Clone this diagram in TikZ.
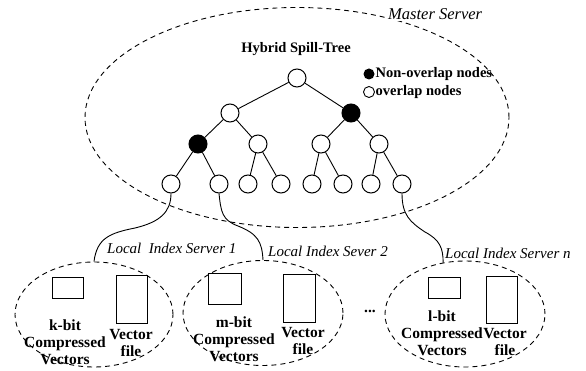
\documentclass[tikz,border=0pt]{standalone}
\usepackage{fontspec}
\setmainfont{Liberation Serif}
\usetikzlibrary{shapes.geometric}
\begin{document}
\begin{tikzpicture}[x=1pt,y=-1pt,
  tn/.style={circle,draw,line width=1pt,minimum size=18pt,inner sep=0pt},
  dn/.style={tn,fill=black},
  edge/.style={line width=0.9pt},
  link/.style={line width=0.9pt},
  srv/.style={ellipse,draw,line width=0.9pt,dash pattern=on 5pt off 4pt,inner sep=0pt},
  store/.style={draw,line width=1pt,inner sep=0pt},
  lbl/.style={font=\fontsize{14.5}{17}\selectfont\bfseries,align=center,inner sep=0pt},
  txt/.style={font=\fontsize{15.5}{17}\selectfont\bfseries,align=center,inner sep=0pt},
  itl/.style={font=\fontsize{15}{17}\selectfont\itshape,inner sep=1pt}
]
\useasboundingbox (0,0) rectangle (586,371);

% master server and its tree
\node[srv,minimum width=424pt,minimum height=220pt] (master) at (297,117.5) {};
\node[itl,anchor=west,fill=white,font=\fontsize{16.5}{18}\selectfont\itshape] (mlabel) at (387,14) {Master Server};
\node[lbl] (title) at (296,49) {Hybrid Spill-Tree};

\node[tn] (r) at (297,78) {};
\node[tn] (a) at (230,113) {};
\node[dn] (b) at (351,113) {};
\node[dn] (a1) at (198,144) {};
\node[tn] (a2) at (258,144) {};
\node[tn] (b1) at (321,144) {};
\node[tn] (b2) at (379,144) {};
\foreach \n/\x in {l1/171,l2/219,l3/248,l4/281,l5/312,l6/343,l7/371,l8/402}
  \node[tn] (\n) at (\x,184) {};

\draw[edge] (r) -- (a);  \draw[edge] (r) -- (b);
\draw[edge] (a) -- (a1); \draw[edge] (a) -- (a2);
\draw[edge] (b) -- (b1); \draw[edge] (b) -- (b2);
\draw[edge] (a1) -- (l1); \draw[edge] (a1) -- (l2);
\draw[edge] (a2) -- (l3); \draw[edge] (a2) -- (l4);
\draw[edge] (b1) -- (l5); \draw[edge] (b1) -- (l6);
\draw[edge] (b2) -- (l7); \draw[edge] (b2) -- (l8);

% legend
\node[circle,fill=black,minimum size=11pt,inner sep=0pt] (kb) at (369,74) {};
\node[circle,draw,line width=0.9pt,minimum size=11pt,inner sep=0pt] (kw) at (369,92) {};
\node[lbl,anchor=west] (tb) at (375.5,74) {Non-overlap nodes};
\node[lbl,anchor=west] (tw) at (375.5,92) {overlap nodes};

% local index servers
\node[srv,minimum width=158pt,minimum height=105pt] (s1) at (94,314.5) {};
\node[srv,minimum width=160pt,minimum height=105pt] (s2) at (263,313) {};
\node[srv,minimum width=160pt,minimum height=106pt] (s3) at (465,314) {};

\node[itl,anchor=west] (n1) at (106,248) {Local\ \ Index Server 1};
\node[itl,anchor=west] (n2) at (267,251) {Local Index Sever 2};
\node[itl,anchor=west] (n3) at (444,253) {Local Index Server n};

\node[store,minimum width=31pt,minimum height=20pt] (c1) at (67.5,288) {};
\node[store,minimum width=31pt,minimum height=47pt] (v1) at (131.5,299.5) {};
\node[store,minimum width=33pt,minimum height=30pt] (c2) at (224.5,289) {};
\node[store,minimum width=32pt,minimum height=47pt] (v2) at (299,298.5) {};
\node[store,minimum width=32pt,minimum height=20pt] (c3) at (444,288) {};
\node[store,minimum width=31pt,minimum height=46pt] (v3) at (501.5,300) {};

\node[txt,anchor=north] (t1) at (65,319.5) {k-bit\\Compressed\\Vectors};
\node[txt,anchor=north] (f1) at (131,329.5) {Vector\\file};
\node[txt,anchor=north] (t2) at (234,316.5) {m-bit\\Compressed\\Vectors};
\node[txt,anchor=north] (f2) at (303,327.5) {Vector\\file};
\node[txt,anchor=north] (t3) at (442,310.5) {l-bit\\Compressed\\Vectors};
\node[txt,anchor=north] (f3) at (505,328.5) {Vector\\file};

\node[txt] (dots) at (370,311) {...};

% links from leaves to the local servers
\draw[link] (l1.south) .. controls (171,212) and (160,222) .. (135,228)
  .. controls (110,233) and (97,238) .. (s1.north);
\draw[link] (l2.south) .. controls (221,212) and (222,220) .. (238,226)
  .. controls (258,234) and (262,242) .. (s2.north);
\draw[link] (l8.south) .. controls (402,215) and (410,222) .. (425,232)
  .. controls (440,240) and (443,248) .. (s3.113);
\end{tikzpicture}
\end{document}
